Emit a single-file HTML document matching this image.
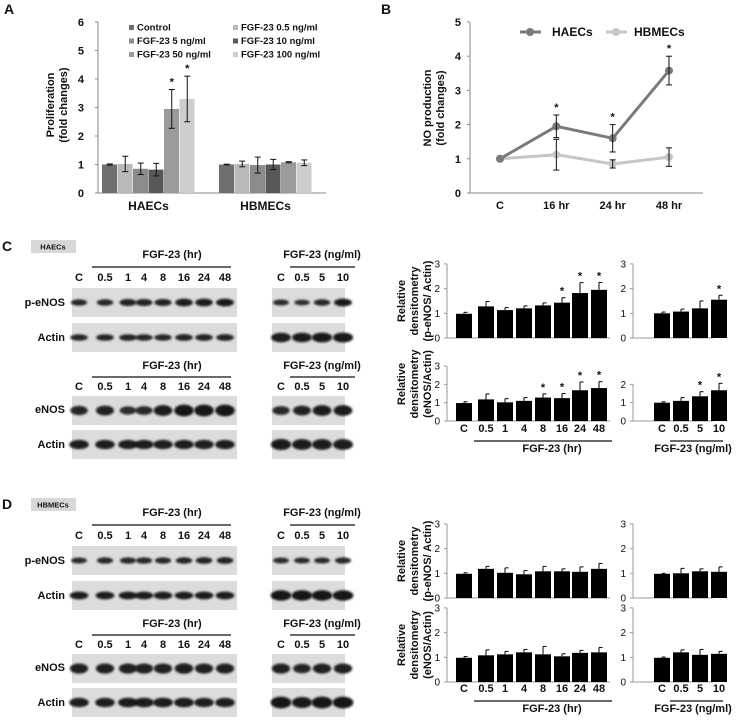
<!DOCTYPE html>
<html><head><meta charset="utf-8"><style>
body{margin:0;background:#fff}
svg text{font-family:"Liberation Sans",Arial,sans-serif;font-weight:bold;fill:#111}
</style></head><body>
<svg id="fig" width="745" height="719" viewBox="0 0 745 719" xmlns="http://www.w3.org/2000/svg">
<defs><filter id="bl" x="-50%" y="-100%" width="200%" height="300%"><feGaussianBlur stdDeviation="1.1"/></filter></defs>
</svg>
<script>
// ---------- DATA ----------
// Panel A
const aGroups=["HAECs","HBMECs"];
const aSeries=["Control","FGF-23 0.5 ng/ml","FGF-23 5 ng/ml","FGF-23 10 ng/ml","FGF-23 50 ng/ml","FGF-23 100 ng/ml"];
const aHAEC=[1.0,1.02,0.85,0.82,2.95,3.3];
const aHAECerr=[0.02,0.27,0.2,0.22,0.68,0.8];
const aHBMEC=[1.0,1.02,0.98,1.0,1.08,1.06];
const aHBMECerr=[0.01,0.1,0.28,0.18,0.02,0.1];
const aStarsHAEC=[0,0,0,0,1,1];
const aTicks=[0,1,2,3,4,5,6];
// Panel B
const bCats=["C","16 hr","24 hr","48 hr"];
const bHAEC=[1,1.95,1.6,3.58];
const bHAECerr=[0,0.33,0.4,0.42];
const bHBMEC=[1,1.12,0.85,1.05];
const bHBMECerr=[0,0.45,0.12,0.27];
const bTicks=[0,1,2,3,4,5];
// Densitometry
const hrCats=["C","0.5","1","4","8","16","24","48"];
const doseCats=["C","0.5","5","10"];
const cPe=[0.98,1.28,1.13,1.2,1.32,1.43,1.82,1.95], cPeErr=[0.06,0.2,0.1,0.1,0.1,0.2,0.42,0.3], cPeStar=[0,0,0,0,0,1,1,1];
const cE=[0.98,1.18,1.02,1.1,1.28,1.25,1.68,1.8], cEErr=[0.07,0.3,0.2,0.18,0.2,0.25,0.45,0.35], cEStar=[0,0,0,0,1,1,1,1];
const cPeD=[1.0,1.07,1.2,1.55], cPeDErr=[0.05,0.1,0.3,0.18], cPeDStar=[0,0,0,1];
const cED=[1.0,1.1,1.35,1.68], cEDErr=[0.05,0.18,0.25,0.38], cEDStar=[0,0,1,1];
const dPe=[0.98,1.18,1.02,0.96,1.08,1.08,1.06,1.18], dPeErr=[0.04,0.1,0.2,0.15,0.2,0.1,0.2,0.22];
const dE=[0.98,1.08,1.12,1.2,1.12,1.04,1.18,1.2], dEErr=[0.05,0.22,0.12,0.12,0.32,0.1,0.1,0.2];
const dPeD=[0.98,1.0,1.08,1.06], dPeDErr=[0.02,0.2,0.1,0.2];
const dED=[0.98,1.2,1.1,1.14], dEDErr=[0.03,0.1,0.22,0.1];
// blot band intensities (0-1)
const cPeBand=[0.55,0.6,0.7,0.7,0.72,0.85,0.85,0.9], cActBand=[0.6,0.62,0.62,0.6,0.6,0.65,0.65,0.65];
const cEBand=[0.6,0.7,0.45,0.55,0.85,1,1,1], cEAct=[0.8,0.8,0.8,0.78,0.8,0.8,0.8,0.8];
const cPeDBand=[0.5,0.4,0.6,0.9], cActDBand=[0.85,0.85,0.9,0.9], cEDBand=[0.55,0.7,0.85,0.85], cEDAct=[0.9,0.85,0.85,0.85];
const dPeBand=[0.5,0.55,0.55,0.55,0.55,0.6,0.65,0.65], dActBand=[0.85,0.85,0.85,0.85,0.85,0.85,0.85,0.85];
const dEBand=[0.75,0.75,0.75,0.75,0.75,0.8,0.75,0.75], dEAct=[0.8,0.8,0.85,0.85,0.85,0.85,0.8,0.8];
const dPeDBand=[0.5,0.5,0.5,0.55], dActDBand=[1,1,1,1], dEDBand=[0.75,0.65,0.75,0.75], dEDAct=[1,0.9,1,1];

// ---------- HELPERS ----------
const svg=document.getElementById('fig'),NS="http://www.w3.org/2000/svg";
function el(t,a,p){const e=document.createElementNS(NS,t);for(const k in a)e.setAttribute(k,a[k]);(p||svg).appendChild(e);return e;}
function txt(x,y,s,size,anchor,p,rot){const e=el('text',{x:x,y:y,'font-size':size,'text-anchor':anchor||'middle'},p);if(rot)e.setAttribute('transform',`rotate(-90 ${x} ${y})`);e.textContent=s;return e;}
function line(x1,y1,x2,y2,c,w,p){return el('line',{x1,y1,x2,y2,stroke:c||'#333','stroke-width':w||1},p);}
function g(name){const e=el('g',{});return e;}

// ---------- PANEL A ----------
(function(){
const G=g('panel-a');
txt(4,14,'A',14,'start',G);
const y0=193,per=28.5,ax=98;
const Y=v=>y0-v*per;
line(ax,Y(6),ax,y0,'#888',1,G);line(ax,y0,326,y0,'#888',1,G);
aTicks.forEach(t=>{txt(84,Y(t)+4,String(t),11,'end',G);line(ax-3,Y(t),ax,Y(t),'#888',1,G);});
txt(54,105,'Proliferation',11,'middle',G,1);txt(67,105,'(fold changes)',11,'middle',G,1);
const cols=['#6e6e6e','#b9b9b9','#8b8b8b','#585858','#9b9b9b','#cdcdcd'];
const bw=15.5,starts=[102,219];
[aHAEC,aHBMEC].forEach((vals,gi)=>{
 const errs=gi?aHBMECerr:aHAECerr;
 vals.forEach((v,i)=>{
  const x=starts[gi]+i*bw;
  const r=el('rect',{x:x,y:Y(v),width:bw-0.5,height:v*per,fill:cols[i]},G);
  
  const cx=x+bw/2,e=errs[i];
  line(cx,Y(v+e),cx,Y(v-e),'#111',1,G);line(cx-3,Y(v+e),cx+3,Y(v+e),'#111',1,G);line(cx-3,Y(v-e),cx+3,Y(v-e),'#111',1,G);
  if(!gi&&aStarsHAEC[i])txt(cx,Y(v+e)-4,'*',11,'middle',G);
 });
 txt(starts[gi]+bw*3,210,aGroups[gi],12,'middle',G);
});
const lg=g('legend-a');
aSeries.forEach((s,i)=>{const col=i%2,row=Math.floor(i/2);const x=col?233:129,y=29+row*13.5;
 el('rect',{x:x,y:y-4,width:5,height:5,fill:cols[i]},lg);txt(x+8,y+1.5,s,9.5,'start',lg);});
})();

// ---------- PANEL B ----------
(function(){
const G=g('panel-b');
txt(381,14,'B',14,'start',G);
const y0=193,per=34.2,ax=470;const Y=v=>y0-v*per;
const xs=[500,557,613,669];const X=i=>xs[0]+i*(xs[3]-xs[0])/3;
line(ax,Y(5),ax,y0,'#888',1,G);line(ax,y0,703,y0,'#888',1,G);
bTicks.forEach(t=>{txt(461,Y(t)+4,String(t),11,'end',G);line(ax-3,Y(t),ax,Y(t),'#888',1,G);});
txt(431,108,'NO production',11,'middle',G,1);txt(444,108,'(fold changes)',11,'middle',G,1);
bCats.forEach((c,i)=>txt(X(i),209,c,11,'middle',G));
[[bHBMEC,bHBMECerr,'#c6c6c6','hbmecs'],[bHAEC,bHAECerr,'#7a7a7a','haecs']].forEach(([v,e,c,n])=>{
 const pl=el('polyline',{points:v.map((d,i)=>X(i)+','+Y(d)).join(' '),fill:'none',stroke:c,'stroke-width':3},G);
 
 v.forEach((d,i)=>{el('circle',{cx:X(i),cy:Y(d),r:4,fill:c},G);
  if(e[i]>0){line(X(i),Y(d+e[i]),X(i),Y(d-e[i]),'#111',1,G);line(X(i)-3,Y(d+e[i]),X(i)+3,Y(d+e[i]),'#111',1,G);line(X(i)-3,Y(d-e[i]),X(i)+3,Y(d-e[i]),'#111',1,G);}
  if(n==='haecs'&&i>0)txt(X(i),Y(d+e[i])-4,'*',11,'middle',G);});
});
const lg=g('legend-b');
line(520,32,541,32,'#7a7a7a',3,lg);el('circle',{cx:530,cy:32,r:4,fill:'#7a7a7a'},lg);txt(552,36,'HAECs',12,'start',lg);
line(606,32,627,32,'#c6c6c6',3,lg);el('circle',{cx:616,cy:32,r:4,fill:'#c6c6c6'},lg);txt(634,36,'HBMECs',12,'start',lg);
})();

// ---------- BLOTS ----------
const hrX=[79,105,128,144,163,184,204,225], doseX=[281,302,322,343];
function blot(x,y,w,h,lanes,ints,name,bandW,bandH,bg){
 const G=g(name);
 el('rect',{x:x,y:y,width:w,height:h,fill:bg||'#dcdcdc'},G);
 lanes.forEach((lx,i)=>{const k=ints[i];
  el('ellipse',{cx:lx,cy:y+h/2,rx:bandW*(0.85+0.3*k),ry:bandH*(0.6+0.7*k),fill:'#151515',opacity:0.8+0.2*k,filter:'url(#bl)'},G);});
}
function blotHeader(yLabel,yLine,yLanes,G){
 txt(172,yLabel,'FGF-23 (hr)',11,'middle',G);line(92,yLine,231,yLine,'#111',1.2,G);
 hrCats.forEach((c,i)=>txt(hrX[i],yLanes,c,11,'middle',G));
 txt(322,yLabel,'FGF-23 (ng/ml)',11,'middle',G);line(290,yLine,355,yLine,'#111',1.2,G);
 doseCats.forEach((c,i)=>txt(doseX[i],yLanes,c,11,'middle',G));
}
function blotPanel(letter,cell,base,d){
 const G=g('panel-'+letter.toLowerCase()+'-blots');
 txt(2,base+11,letter,14,'start',G);
 el('rect',{x:31,y:base,width:45,height:13,fill:'#d8d8d8'},G);txt(53,base+9.5,cell,7.5,'middle',G);
 blotHeader(base+18,base+27,base+41,G);
 blot(72,base+48,165,29,hrX,d[0],'blot-p-enos-hr',8,3.2);
 blot(72,base+83,165,29,hrX,d[1],'blot-actin-hr',8.5,3.2);
 blot(272,base+48,73,29,doseX,d[2],'blot-p-enos-dose',8,3.2);
 blot(272,base+83,73,29,doseX,d[3],'blot-actin-dose',9,4);
 txt(65,base+66,'p-eNOS',11,'end',G);txt(65,base+101,'Actin',11,'end',G);
 blotHeader(base+129,base+137,base+150,G);
 blot(72,base+156,165,29,hrX,d[4],'blot-enos-hr',8.5,4.5);
 blot(72,base+190,165,29,hrX,d[5],'blot-actin2-hr',9,4);
 blot(272,base+156,73,29,doseX,d[6],'blot-enos-dose',8.5,4.5);
 blot(272,base+190,73,29,doseX,d[7],'blot-actin2-dose',9,4.5);
 txt(65,base+173,'eNOS',11,'end',G);txt(65,base+208,'Actin',11,'end',G);
}
blotPanel('C','HAECs',240,[cPeBand,cActBand,cPeDBand,cActDBand,cEBand,cEAct,cEDBand,cEDAct]);
blotPanel('D','HBMECs',498,[dPeBand,dActBand,dPeDBand,dActDBand,dEBand,dEAct,dEDBand,dEDAct]);

// ---------- DENSITOMETRY BAR CHARTS ----------
function barChart(name,ax,xEnd,y0,per,maxT,centers,vals,errs,stars){
 const G=g(name);const Y=v=>y0-v*per;
 line(ax,Y(maxT),ax,y0,'#999',1,G);line(ax,y0,xEnd,y0,'#999',1,G);
 for(let t=0;t<=maxT;t++){txt(ax-7,Y(t)+3.5,String(t),10,'end',G).setAttribute('style','font-weight:normal');line(ax-3,Y(t),ax,Y(t),'#999',1,G);}
 vals.forEach((v,i)=>{const c=centers[i];
  const r=el('rect',{x:c-8,y:Y(v),width:16,height:v*per,fill:'#000'},G);
  
  line(c,Y(v),c,Y(v+errs[i]),'#000',1,G);line(c,Y(v+errs[i]),c+3.5,Y(v+errs[i]),'#000',1,G);
  if(stars&&stars[i])txt(c,Y(v+errs[i])-3,'*',11,'middle',G);});
}
const hrC=[464,486,505,524,543,562,580,599], doseC=[662,681,700,719];
function densPanel(top,bot,yLab,data,tops){
 const [a,b,c,d]=data;
 barChart('chart-p-enos-hr',447,610,top.y0,top.per,3,hrC,a[0],a[1],a[2]);
 barChart('chart-enos-hr',447,610,bot.y0,bot.per,3,hrC,b[0],b[1],b[2]);
 barChart('chart-p-enos-dose',633,713,top.y0,top.per,3,doseC,c[0],c[1],c[2]);
 barChart('chart-enos-dose',633,713,bot.y0,bot.per,tops,doseC,d[0],d[1],d[2]);
 const G=g('dens-labels');
 [[top.y0-37,'(p-eNOS/ Actin)'],[bot.y0-37,'(eNOS/Actin)']].forEach(([cy,s])=>{
  txt(405,cy,'Relative',11,'middle',G,1);txt(418,cy,'densitometry',11,'middle',G,1);txt(431,cy,s,11,'middle',G,1);});
 hrCats.forEach((s,i)=>txt(hrC[i],yLab,s,11,'middle',G));
 doseCats.forEach((s,i)=>txt(doseC[i],yLab,s,11,'middle',G));
 line(474,yLab+9,612,yLab+9,'#111',1.2,G);line(670,yLab+9,723,yLab+9,'#111',1.2,G);
 txt(552,yLab+20,'FGF-23 (hr)',11,'middle',G);txt(693,yLab+20,'FGF-23 (ng/ml)',11,'middle',G);
}
densPanel({y0:338,per:24.7},{y0:421,per:18.3},432,
 [[cPe,cPeErr,cPeStar],[cE,cEErr,cEStar],[cPeD,cPeDErr,cPeDStar],[cED,cEDErr,cEDStar]],2);
densPanel({y0:598,per:24.7},{y0:682,per:24.7},692,
 [[dPe,dPeErr,null],[dE,dEErr,null],[dPeD,dPeDErr,null],[dED,dEDErr,null]],3);
</script>
</body></html>
